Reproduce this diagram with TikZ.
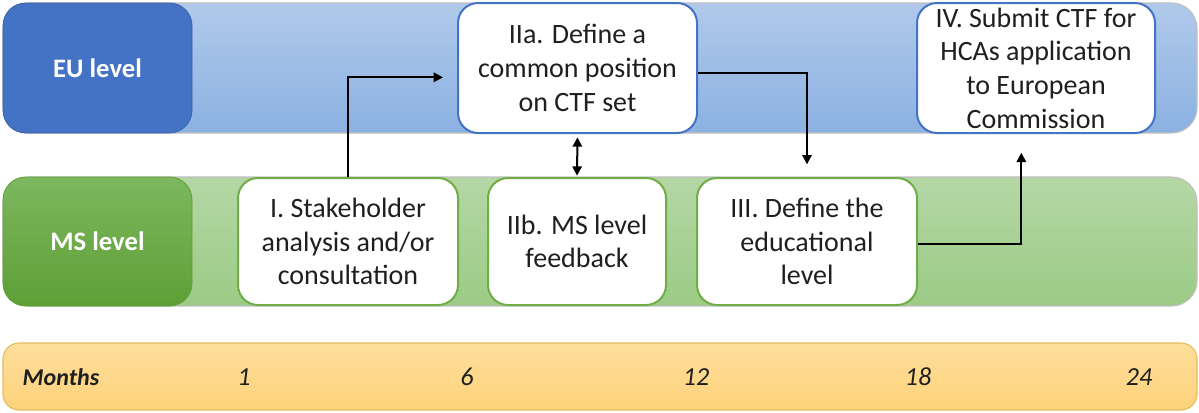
\documentclass[tikz,border=0pt]{standalone}
\usepackage{fontspec}
\setmainfont{Carlito}
\usetikzlibrary{arrows.meta}
\definecolor{eubandtop}{HTML}{B0C9EA}
\definecolor{eubandbot}{HTML}{8BB1E1}
\definecolor{eulab}{HTML}{4472C4}
\definecolor{eulabdark}{HTML}{3A62AA}
\definecolor{msbandtop}{HTML}{B5D7A6}
\definecolor{msbandbot}{HTML}{9BCB85}
\definecolor{mslabtop}{HTML}{7DB75F}
\definecolor{mslabbot}{HTML}{5E9F35}
\definecolor{msborder}{HTML}{70AD47}
\definecolor{monthtop}{HTML}{FEDE9C}
\definecolor{monthbot}{HTML}{FED27A}
\definecolor{monthborder}{HTML}{E2BC5E}
\definecolor{txt}{HTML}{1F1F1F}
\tikzset{
  band/.style={draw=black!25, line width=0.8pt, rounded corners=19pt},
  lab/.style={rounded corners=17pt, inner sep=0pt, text=white, font=\fontsize{20}{24}\selectfont\bfseries},
  eubox/.style={draw=eulab, fill=white, line width=1.5pt, rounded corners=15pt, inner sep=0pt, align=center, text=txt, font=\fontsize{21}{25.3}\selectfont},
  msbox/.style={eubox, draw=msborder},
  flow/.style={line width=1.5pt, -{Triangle[length=7pt,width=7pt]}},
  month/.style={font=\fontsize{19.5}{24}\selectfont\itshape, text=txt, anchor=base}
}
\begin{document}
\begin{tikzpicture}[x=0.75pt,y=-0.75pt]
\useasboundingbox (0,0) rectangle (1199,412);
% bands
\path[band, top color=eubandtop, bottom color=eubandbot] (3,3) rectangle (1197,133);
\path[band, top color=msbandtop, bottom color=msbandbot] (3,177) rectangle (1197,306);
\path[band, draw=monthborder, rounded corners=12pt, top color=monthtop, bottom color=monthbot] (3,343) rectangle (1197,410);
% level labels
\node[lab, draw=eulabdark, line width=0.6pt, fill=eulab, minimum width=141.75pt, minimum height=97.5pt] (eu) at (97.5,68) {EU level};
\node[lab, draw=mslabbot, line width=0.6pt, top color=mslabtop, bottom color=mslabbot, minimum width=141.75pt, minimum height=96.75pt] (ms) at (97.5,241.5) {MS level};
% step boxes
\node[msbox, minimum width=165pt, minimum height=95.25pt] (s1) at (348,241.5) {I. Stakeholder\\analysis and/or\\consultation};
\node[msbox, minimum width=133.5pt, minimum height=95.25pt] (s2b) at (577,241.5) {IIb. MS level\\feedback};
\node[msbox, minimum width=165pt, minimum height=95.25pt] (s3) at (807,241.5) {III. Define the\\educational\\level};
\node[eubox, minimum width=179.25pt, minimum height=97.5pt] (s2a) at (577.5,68) {IIa. Define a\\common position\\on CTF set};
\node[eubox, minimum width=178.5pt, minimum height=97.5pt] (s4) at (1036,68) {IV. Submit CTF for\\HCAs application\\to European\\Commission};
% connectors
\draw[flow, shorten >=10.5pt] (s1.north) |- ([yshift=-7]s2a.west);
\draw[flow, shorten >=9.5pt] ([yshift=-4]s2a.east) -| (s3.north);
\draw[line width=1.5pt, {Triangle[length=7pt,width=7pt]}-{Triangle[length=7pt,width=7pt]}, shorten <=2.5pt, shorten >=1pt] (s2a.south) -- (s2b.north);
\draw[flow, shorten >=14pt] ([yshift=-2]s3.east) -| ([xshift=-11]s4.south);
% months
\node[month, font=\fontsize{18}{22}\selectfont\bfseries\itshape, anchor=base west] (mlab) at (18,385) {Months};
\node[month] (m1) at (244,385) {1};
\node[month] (m6) at (467,385) {6};
\node[month] (m12) at (696,385) {12};
\node[month] (m18) at (918,385) {18};
\node[month] (m24) at (1139,385) {24};
\end{tikzpicture}
\end{document}
